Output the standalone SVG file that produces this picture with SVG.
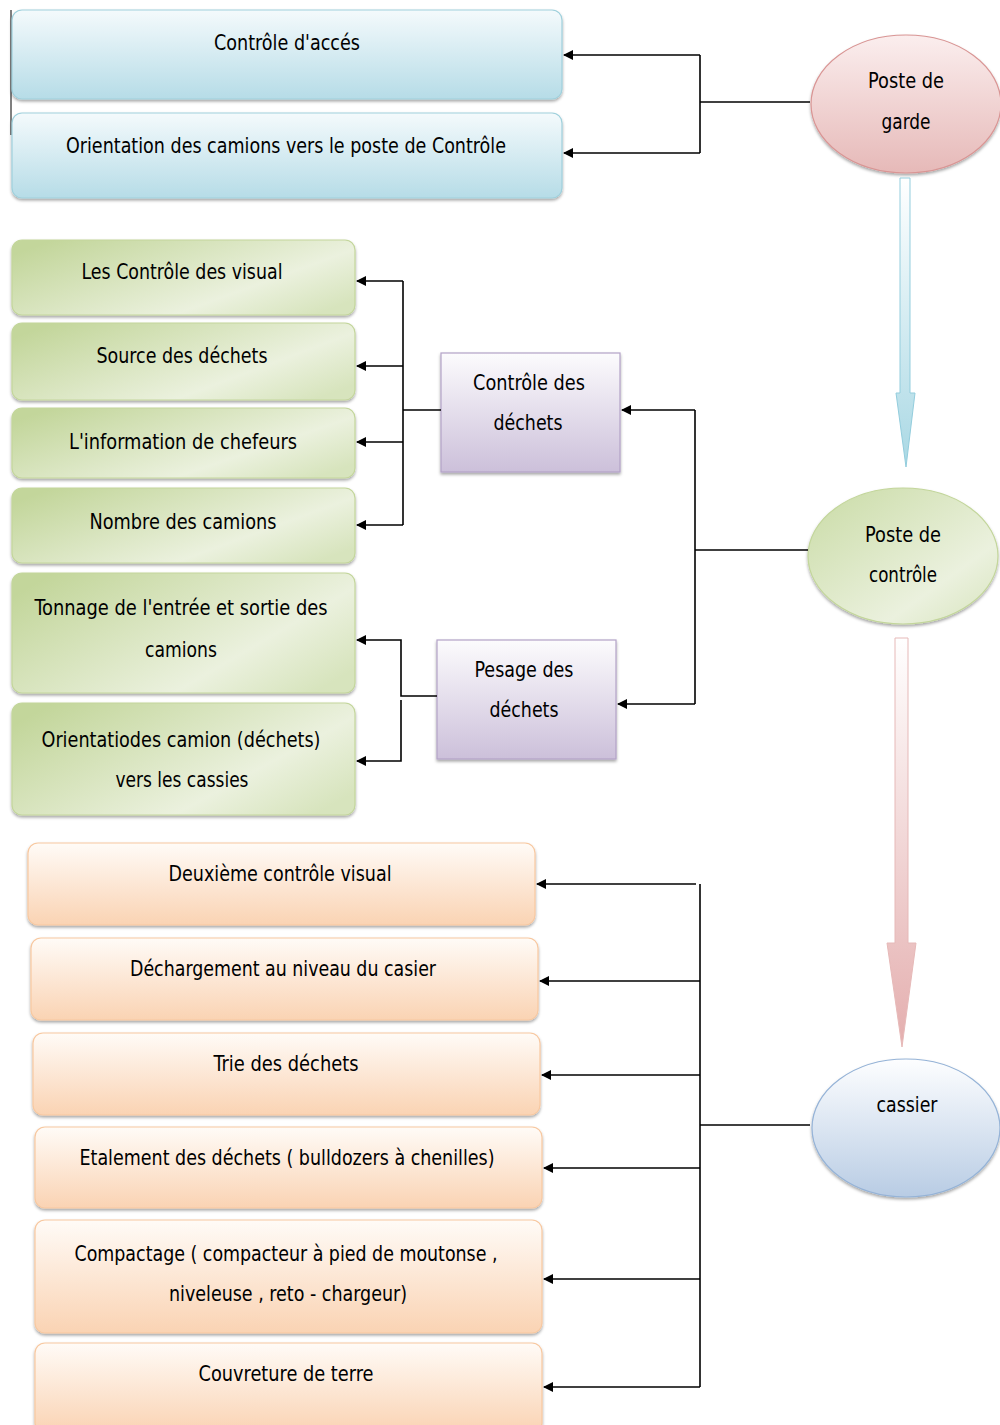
<svg xmlns="http://www.w3.org/2000/svg" width="1000" height="1425" viewBox="0 0 1000 1425">
<defs>
<linearGradient id="gBlue" x1="0" y1="0" x2="0" y2="1"><stop offset="0" stop-color="#f4fafc"/><stop offset="1" stop-color="#b6dce7"/></linearGradient>
<linearGradient id="gGreen" x1="0" y1="0.2" x2="1" y2="0.8"><stop offset="0" stop-color="#c3d69b"/><stop offset="0.7" stop-color="#ebf1de"/><stop offset="1" stop-color="#d7e4bd"/></linearGradient>
<linearGradient id="gPurple" x1="0" y1="0" x2="0" y2="1"><stop offset="0" stop-color="#fcfbfd"/><stop offset="1" stop-color="#ccc0da"/></linearGradient>
<linearGradient id="gOrange" x1="0" y1="0" x2="0" y2="1"><stop offset="0" stop-color="#fffbf7"/><stop offset="1" stop-color="#fad3b3"/></linearGradient>
<linearGradient id="gPink" x1="0" y1="0" x2="0" y2="1"><stop offset="0" stop-color="#fbeeee"/><stop offset="1" stop-color="#e6b9b8"/></linearGradient>
<linearGradient id="gLime" x1="0" y1="0" x2="1" y2="1"><stop offset="0" stop-color="#c9dba5"/><stop offset="0.7" stop-color="#ebf1de"/><stop offset="1" stop-color="#d7e4bd"/></linearGradient>
<linearGradient id="gSky" x1="0" y1="0" x2="0" y2="1"><stop offset="0" stop-color="#fdfeff"/><stop offset="1" stop-color="#b8cce4"/></linearGradient>
<linearGradient id="gArrowBlue" x1="0" y1="0" x2="0" y2="1"><stop offset="0" stop-color="#ffffff"/><stop offset="1" stop-color="#a9d8e4"/></linearGradient>
<linearGradient id="gArrowPink" x1="0" y1="0" x2="0" y2="1"><stop offset="0" stop-color="#ffffff"/><stop offset="1" stop-color="#e4aeae"/></linearGradient>
<filter id="sh" x="-5%" y="-10%" width="110%" height="130%"><feDropShadow dx="0" dy="2" stdDeviation="1.5" flood-color="#000" flood-opacity="0.35"/></filter>
<marker id="ah" viewBox="0 0 10 10" refX="9" refY="5" markerWidth="11" markerHeight="10" markerUnits="userSpaceOnUse" orient="auto"><path d="M0,0 L10,5 L0,10 z" fill="#000"/></marker>
<style>
text{font-family:"DejaVu Sans Condensed","DejaVu Sans",sans-serif;font-size:21px;fill:#000;text-anchor:middle;}
.blue{fill:url(#gBlue);stroke:#9fd0dc;stroke-width:1.2;filter:url(#sh);}
.green{fill:url(#gGreen);stroke:#c3d69b;stroke-width:1.2;filter:url(#sh);}
.purple{fill:url(#gPurple);stroke:#b3a2c7;stroke-width:1.2;filter:url(#sh);}
.orange{fill:url(#gOrange);stroke:#f8c8a0;stroke-width:1.2;filter:url(#sh);}
.conn{fill:none;stroke:#000;stroke-width:1.6;}
</style>
</defs>
<line x1="11" y1="10" x2="11" y2="135" stroke="#000" stroke-width="1"/>
<g id="n-controle-acces"><rect class="blue" x="12" y="10" width="550" height="89" rx="10"/><text x="287" y="50" textLength="146" lengthAdjust="spacingAndGlyphs">Contrôle d'accés</text></g>
<g id="n-orientation"><rect class="blue" x="12" y="113" width="550" height="85" rx="10"/><text x="286" y="153" textLength="440" lengthAdjust="spacingAndGlyphs">Orientation des camions vers le poste de Contrôle</text></g>
<g id="n-poste-garde"><ellipse cx="906" cy="104" rx="95" ry="69" fill="url(#gPink)" stroke="#d99594" stroke-width="1.2" filter="url(#sh)"/><text x="906" y="88" textLength="76" lengthAdjust="spacingAndGlyphs">Poste de</text><text x="906" y="129" textLength="49" lengthAdjust="spacingAndGlyphs">garde</text></g>
<g id="n-visual"><rect class="green" x="12" y="240" width="343" height="75" rx="10"/><text x="182" y="279" textLength="201" lengthAdjust="spacingAndGlyphs">Les Contrôle des visual</text></g>
<g id="n-source"><rect class="green" x="12" y="323" width="343" height="77" rx="10"/><text x="182" y="363" textLength="171" lengthAdjust="spacingAndGlyphs">Source des déchets</text></g>
<g id="n-info"><rect class="green" x="12" y="408" width="343" height="70" rx="10"/><text x="183" y="449" textLength="228" lengthAdjust="spacingAndGlyphs">L'information de chefeurs</text></g>
<g id="n-nombre"><rect class="green" x="12" y="488" width="343" height="75" rx="10"/><text x="183" y="529" textLength="187" lengthAdjust="spacingAndGlyphs">Nombre des camions</text></g>
<g id="n-tonnage"><rect class="green" x="12" y="573" width="343" height="120" rx="10"/><text x="181" y="615" textLength="293" lengthAdjust="spacingAndGlyphs">Tonnage de l'entrée et sortie des</text><text x="181" y="657" textLength="72" lengthAdjust="spacingAndGlyphs">camions</text></g>
<g id="n-orient-cassies"><rect class="green" x="12" y="703" width="343" height="112" rx="10"/><text x="181" y="747" textLength="279" lengthAdjust="spacingAndGlyphs">Orientatiodes camion (déchets)</text><text x="182" y="787" textLength="133" lengthAdjust="spacingAndGlyphs">vers les cassies</text></g>
<g id="n-controle-dechets"><rect class="purple" x="441" y="353" width="179" height="119"/><text x="529" y="390" textLength="112" lengthAdjust="spacingAndGlyphs">Contrôle des</text><text x="528" y="430" textLength="69" lengthAdjust="spacingAndGlyphs">déchets</text></g>
<g id="n-pesage"><rect class="purple" x="437" y="640" width="179" height="119"/><text x="524" y="677" textLength="99" lengthAdjust="spacingAndGlyphs">Pesage des</text><text x="524" y="717" textLength="69" lengthAdjust="spacingAndGlyphs">déchets</text></g>
<g id="n-poste-controle"><ellipse cx="903" cy="556" rx="95" ry="68" fill="url(#gLime)" stroke="#c3d69b" stroke-width="1.2" filter="url(#sh)"/><text x="903" y="542" textLength="76" lengthAdjust="spacingAndGlyphs">Poste de</text><text x="903" y="582" textLength="68" lengthAdjust="spacingAndGlyphs">contrôle</text></g>
<g id="n-deuxieme"><rect class="orange" x="28" y="843" width="507" height="82" rx="10"/><text x="280" y="881" textLength="223" lengthAdjust="spacingAndGlyphs">Deuxième contrôle visual</text></g>
<g id="n-dechargement"><rect class="orange" x="31" y="938" width="507" height="82" rx="10"/><text x="283" y="976" textLength="306" lengthAdjust="spacingAndGlyphs">Déchargement au niveau du casier</text></g>
<g id="n-trie"><rect class="orange" x="33" y="1033" width="507" height="82" rx="10"/><text x="286" y="1071" textLength="145" lengthAdjust="spacingAndGlyphs">Trie des déchets</text></g>
<g id="n-etalement"><rect class="orange" x="35" y="1127" width="507" height="81" rx="10"/><text x="287" y="1165" textLength="415" lengthAdjust="spacingAndGlyphs">Etalement des déchets ( bulldozers à chenilles)</text></g>
<g id="n-compactage"><rect class="orange" x="35" y="1220" width="507" height="113" rx="10"/><text x="286" y="1261" textLength="423" lengthAdjust="spacingAndGlyphs">Compactage ( compacteur à pied de moutonse ,</text><text x="288" y="1301" textLength="238" lengthAdjust="spacingAndGlyphs">niveleuse , reto - chargeur)</text></g>
<g id="n-couverture"><rect class="orange" x="35" y="1343" width="507" height="90" rx="10"/><text x="286" y="1381" textLength="175" lengthAdjust="spacingAndGlyphs">Couvreture de terre</text></g>
<g id="n-cassier"><ellipse cx="906" cy="1128" rx="94" ry="69" fill="url(#gSky)" stroke="#95b3d7" stroke-width="1.2" filter="url(#sh)"/><text x="907" y="1112" textLength="61" lengthAdjust="spacingAndGlyphs">cassier</text></g>
<g id="connectors">
<path d="M900,178 H910 V393 H915 L906,467 L896,393 H900 Z" fill="url(#gArrowBlue)" stroke="#93cddd" stroke-width="1"/>
<path d="M895,638 H908 V943 H916 L902,1047 L887,943 H895 Z" fill="url(#gArrowPink)" stroke="#e6b9b8" stroke-width="1"/>
<path class="conn" d="M810,102 H700"/>
<path class="conn" d="M700,55 V153"/>
<path class="conn" marker-end="url(#ah)" d="M700,55 H564"/>
<path class="conn" marker-end="url(#ah)" d="M700,153 H564"/>
<path class="conn" d="M441,410 H403"/>
<path class="conn" d="M403,281 V525"/>
<path class="conn" marker-end="url(#ah)" d="M403,281 H357"/>
<path class="conn" marker-end="url(#ah)" d="M403,366 H357"/>
<path class="conn" marker-end="url(#ah)" d="M403,442 H357"/>
<path class="conn" marker-end="url(#ah)" d="M403,525 H357"/>
<path class="conn" d="M808,550 H695"/>
<path class="conn" d="M695,410 V704"/>
<path class="conn" marker-end="url(#ah)" d="M695,410 H622"/>
<path class="conn" marker-end="url(#ah)" d="M695,704 H618"/>
<path class="conn" marker-end="url(#ah)" d="M437,696 H401 V640 H357"/>
<path class="conn" marker-end="url(#ah)" d="M401,700 V761 H357"/>
<path class="conn" d="M810,1125 H700"/>
<path class="conn" d="M700,884 V1387"/>
<path class="conn" marker-end="url(#ah)" d="M696,884 H537"/>
<path class="conn" marker-end="url(#ah)" d="M700,981 H540"/>
<path class="conn" marker-end="url(#ah)" d="M700,1075 H542"/>
<path class="conn" marker-end="url(#ah)" d="M700,1168 H544"/>
<path class="conn" marker-end="url(#ah)" d="M700,1279 H544"/>
<path class="conn" marker-end="url(#ah)" d="M700,1387 H544"/>
</g>
</svg>
